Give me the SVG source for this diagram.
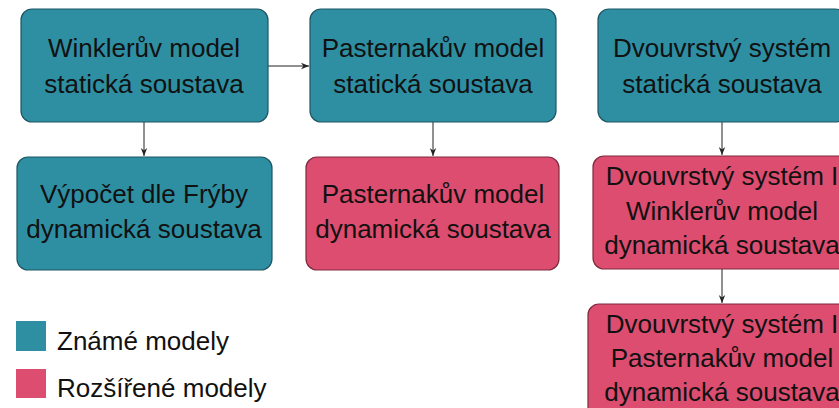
<svg xmlns="http://www.w3.org/2000/svg" width="839" height="408" viewBox="0 0 839 408">
<style>
.k{fill:#2e8fa3;stroke:#1d5663;stroke-width:1.2}
.r{fill:#dc4d70;stroke:#7e2a3e;stroke-width:1.2}
text{font-family:"Liberation Sans","DejaVu Sans",sans-serif;font-size:26px;fill:#111;text-anchor:middle}
.lg{text-anchor:start;font-size:26px}
.c line{stroke:#222;stroke-width:1;marker-end:url(#a)}
</style>
<defs>
<marker id="a" viewBox="0 0 10 10" refX="10" refY="5" markerWidth="8" markerHeight="8" markerUnits="userSpaceOnUse" orient="auto">
<path d="M0,1 L10,5 L0,9 L3,5 Z" fill="#222"/>
</marker>
</defs>
<rect width="839" height="408" fill="#fff"/>
<g class="c">
<line x1="144" y1="122" x2="144" y2="156"/>
<line x1="268" y1="66" x2="309" y2="66"/>
<line x1="433" y1="122" x2="433" y2="156"/>
<line x1="722" y1="122" x2="722" y2="155"/>
<line x1="722" y1="269" x2="722" y2="303"/>
</g>
<g id="n1"><rect class="k" x="21" y="9" width="247" height="113" rx="11"/><text x="144" y="57">Winklerův model</text><text x="144" y="93">statická soustava</text></g>
<g id="n2"><rect class="k" x="310" y="9" width="246" height="113" rx="11"/><text x="433" y="57">Pasternakův model</text><text x="433" y="93">statická soustava</text></g>
<g id="n3"><rect class="k" x="598" y="9" width="248" height="113" rx="11"/><text x="722" y="57">Dvouvrstvý systém</text><text x="722" y="93">statická soustava</text></g>
<g id="n4"><rect class="k" x="17" y="157" width="255" height="113" rx="11"/><text x="144" y="203">Výpočet dle Frýby</text><text x="144" y="238">dynamická soustava</text></g>
<g id="n5"><rect class="r" x="306" y="157" width="253" height="113" rx="11"/><text x="433" y="203">Pasternakův model</text><text x="433" y="238">dynamická soustava</text></g>
<g id="n6"><rect class="r" x="593" y="156" width="258" height="113" rx="11"/><text x="722" y="185">Dvouvrstvý systém I</text><text x="722" y="220">Winklerův model</text><text x="722" y="254">dynamická soustava</text></g>
<g id="n7"><rect class="r" x="588" y="304" width="268" height="120" rx="11"/><text x="722" y="333">Dvouvrstvý systém I</text><text x="722" y="367">Pasternakův model</text><text x="722" y="401">dynamická soustava</text></g>
<g id="legend">
<rect x="16" y="321" width="30" height="30" fill="#2e8fa3"/>
<rect x="16" y="369" width="30" height="29" fill="#dc4d70"/>
<text class="lg" x="57" y="350">Známé modely</text>
<text class="lg" x="57" y="397">Rozšířené modely</text>
</g>
</svg>
